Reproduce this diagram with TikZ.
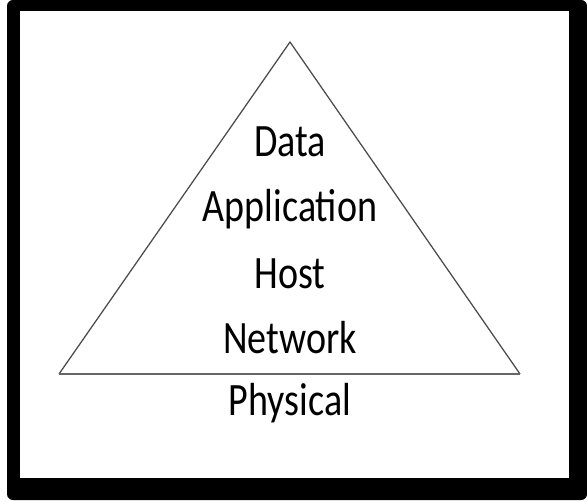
\documentclass[tikz,border=0pt]{standalone}
\usepackage{fontspec}
\setmainfont{Carlito}
\usepackage{tikz}

\tikzset{
    layer/.style={anchor=base, inner sep=0pt, font=\fontsize{33}{40}\selectfont},
    edge/.style={draw=black!70, line width=0.9pt, line join=round}
}
% labels are a bit narrow
\newcommand{\narrow}[1]{\scalebox{0.82}[1]{#1}}

\begin{document}
\begin{tikzpicture}
    \useasboundingbox (0,0) rectangle (14.675,12.525);
    % Define the frame as a black rounded rectangle with a white inside
    \fill[black, rounded corners=0.15cm] (0.175,0.025) rectangle (14.675,12.525);
    \fill[white] (0.5,0.575) rectangle (14.225,12.25);
    % Draw the triangle
    \coordinate (top) at (7.25,11.475);
    \coordinate (left) at (1.475,3.175);
    \coordinate (right) at (13.0,3.175);
    \draw[edge] (left) -- (top) -- (right);
    \draw[edge, draw=black!60, line width=1.5pt] (left) -- (right);
    % labels
    \node[layer] (data) at (7.25,8.6) {\narrow{Data}};
    \node[layer] (app) at (7.25,6.975) {\narrow{Application}};
    \node[layer] (host) at (7.25,5.325) {\narrow{Host}};
    \node[layer] (net) at (7.25,3.7) {\narrow{Network}};
    \node[layer] (phys) at (7.25,2.15) {\narrow{Physical}};
\end{tikzpicture}
\end{document}
